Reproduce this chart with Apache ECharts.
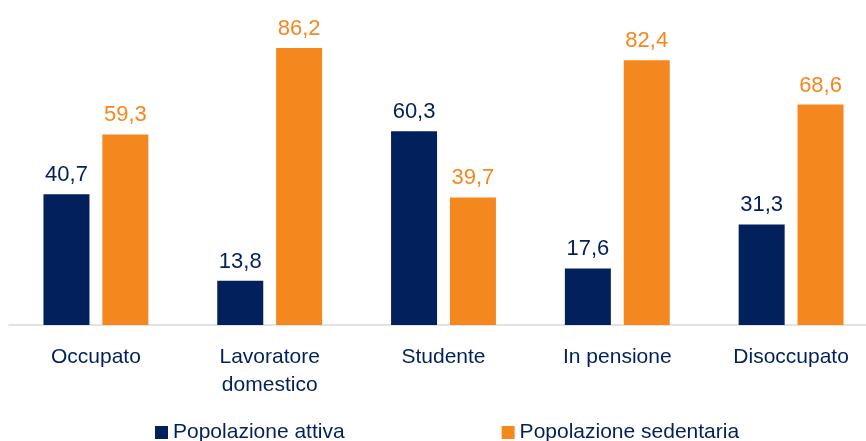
<!DOCTYPE html>
<html>
<head>
<meta charset="utf-8">
<script src="https://cdn.jsdelivr.net/npm/echarts@6/dist/echarts.min.js"></script>
<style>
  html, body { margin: 0; padding: 0; background: #fff; }
  #chart { width: 866px; height: 441px; }
</style>
</head>
<body>
<div id="chart"></div>
<script>
  // categorie e valori (%)
  var categorie = ['Occupato', 'Lavoratore\ndomestico', 'Studente', 'In pensione', 'Disoccupato'];
  var attiva = [40.7, 13.8, 60.3, 17.6, 31.3];
  var sedentaria = [59.3, 86.2, 39.7, 82.4, 68.6];
  var nomiSerie = ['Popolazione attiva', 'Popolazione sedentaria'];

  var navy = '#02205c';
  var orange = '#f5871f';
  var fontFam = '"Liberation Sans", Arial, sans-serif';

  function virgola(p) {
    return p.value.toFixed(1).replace('.', ',');
  }

  var myChart = echarts.init(document.getElementById('chart'));
  var option = {
    animation: false,
    textStyle: { fontFamily: fontFam },
    grid: {
      top: 10,
      left: 9,
      width: 869,
      height: 315,
      outerBoundsMode: 'none'
    },
    legend: {
      top: 417,
      left: 150,
      itemWidth: 13,
      itemHeight: 13,
      itemGap: 157,
      icon: 'rect',
      textStyle: { color: navy, fontSize: 21, fontFamily: fontFam },
      data: nomiSerie
    },
    xAxis: {
      type: 'category',
      data: categorie,
      axisTick: { show: false },
      axisLine: { lineStyle: { color: '#d9d9d9', width: 1.5 } },
      axisLabel: {
        color: navy,
        fontSize: 21,
        lineHeight: 28,
        margin: 18,
        interval: 0,
        fontFamily: fontFam
      }
    },
    yAxis: {
      type: 'value',
      min: 0,
      max: 98,
      show: false,
      splitLine: { show: false }
    },
    series: [
      {
        name: nomiSerie[0],
        type: 'bar',
        data: attiva,
        barWidth: 46,
        barGap: '28%',
        itemStyle: { color: navy },
        label: {
          show: true,
          position: 'top',
          distance: 8,
          color: navy,
          fontSize: 22,
          fontFamily: fontFam,
          formatter: virgola
        }
      },
      {
        name: nomiSerie[1],
        type: 'bar',
        data: sedentaria,
        barWidth: 46,
        itemStyle: { color: orange },
        label: {
          show: true,
          position: 'top',
          distance: 8,
          color: orange,
          fontSize: 22,
          fontFamily: fontFam,
          formatter: virgola
        }
      }
    ]
  };
  myChart.setOption(option);
</script>
</body>
</html>
